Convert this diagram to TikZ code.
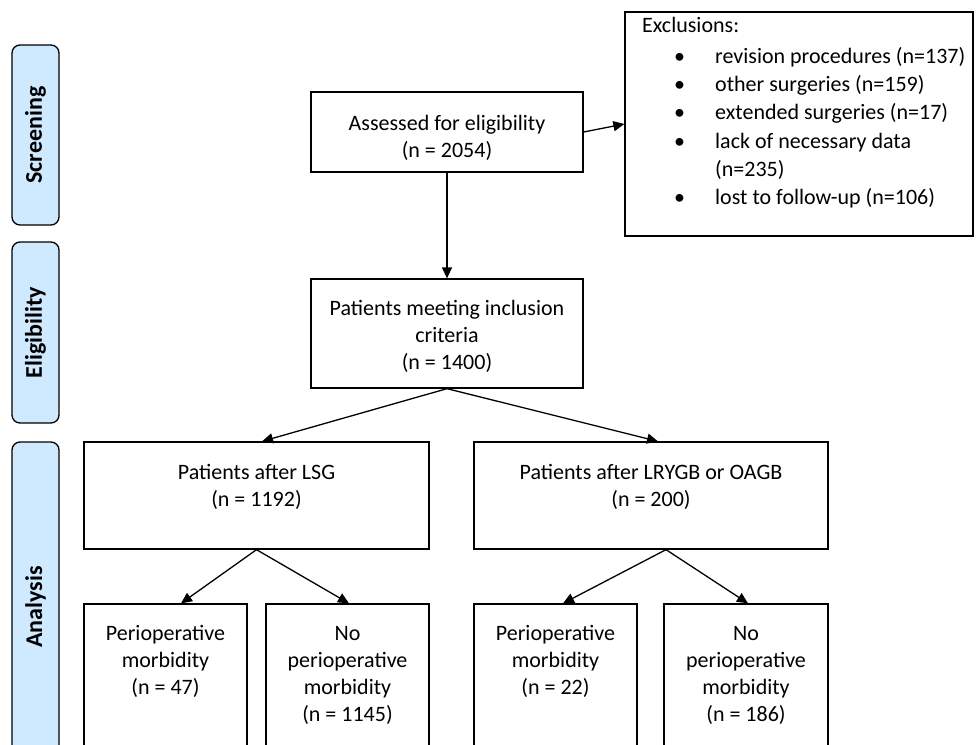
\documentclass[tikz,border=0pt]{standalone}
\usepackage{fontspec}
\setmainfont{Carlito}
\usetikzlibrary{arrows.meta,calc}
\definecolor{barblue}{RGB}{207,233,255}
\begin{document}
\begin{tikzpicture}[x=1pt,y=-1pt,
  box/.style={draw, line width=1.3pt, rectangle, inner sep=0pt},
  bar/.style={draw, line width=1.3pt, fill=barblue, rounded corners=8pt, rotate=90,
    minimum height=47pt, inner sep=0pt, font=\fontsize{24}{28}\selectfont\bfseries},
  txt/.style={inner sep=0pt, anchor=base, font=\fontsize{22}{27}\selectfont},
  arr/.style={line width=1.3pt, -{Triangle[length=11pt,width=10pt]}}
]
\useasboundingbox (0,0) rectangle (976,744);
\clip (0,0) rectangle (976,744);

% side bars
\node[bar, minimum width=180pt] (scr) at (35.5,135) {Screening};
\node[bar, minimum width=181pt] (eli) at (35.5,332.5) {Eligibility};
\node[bar, minimum width=330pt] (ana) at (35.5,607) {Analysis};

% boxes
\node[box, minimum width=272pt, minimum height=80pt] (assess) at (447,132) {};
\node[box, minimum width=272pt, minimum height=109pt] (meet) at (447,333.5) {};
\node[box, minimum width=348pt, minimum height=224pt] (excl) at (799,124) {};
\node[box, minimum width=345pt, minimum height=107pt] (lsg) at (256.5,495.5) {};
\node[box, minimum width=354pt, minimum height=107pt] (lry) at (651,495.5) {};
\node[box, minimum width=163pt, minimum height=176pt] (b1) at (165.5,692) {};
\node[box, minimum width=163pt, minimum height=176pt] (b2) at (347.5,692) {};
\node[box, minimum width=163pt, minimum height=176pt] (b3) at (555.5,692) {};
\node[box, minimum width=164pt, minimum height=176pt] (b4) at (746,692) {};

% texts
\node[txt] (assesst) at (447,130) {\begin{tabular}[t]{@{}c@{}}Assessed for eligibility\\(n = 2054)\end{tabular}};
\node[txt] (meett) at (447,315) {\begin{tabular}[t]{@{}c@{}}Patients meeting inclusion\\criteria\\(n = 1400)\end{tabular}};
\node[txt] (lsgt) at (256.5,479) {\begin{tabular}[t]{@{}c@{}}Patients after LSG\\(n = 1192)\end{tabular}};
\node[txt] (lryt) at (651,479) {\begin{tabular}[t]{@{}c@{}}Patients after LRYGB or OAGB\\(n = 200)\end{tabular}};
\node[txt] (b1t) at (165.5,640) {\begin{tabular}[t]{@{}c@{}}Perioperative\\morbidity\\(n = 47)\end{tabular}};
\node[txt] (b2t) at (347.5,640) {\begin{tabular}[t]{@{}c@{}}No\\perioperative\\morbidity\\(n = 1145)\end{tabular}};
\node[txt] (b3t) at (555.5,640) {\begin{tabular}[t]{@{}c@{}}Perioperative\\morbidity\\(n = 22)\end{tabular}};
\node[txt] (b4t) at (746,640) {\begin{tabular}[t]{@{}c@{}}No\\perioperative\\morbidity\\(n = 186)\end{tabular}};

\node[inner sep=0pt, anchor=base west, font=\fontsize{22}{28.3}\selectfont] (exclt) at (642,32)
 {\begin{tabular}[t]{@{}l@{}}Exclusions:\\[3pt]
 \hspace*{32pt}\makebox[41pt][l]{•}revision procedures (n=137)\\
 \hspace*{32pt}\makebox[41pt][l]{•}other surgeries (n=159)\\
 \hspace*{32pt}\makebox[41pt][l]{•}extended surgeries (n=17)\\
 \hspace*{32pt}\makebox[41pt][l]{•}lack of necessary data\\
 \hspace*{73pt}(n=235)\\
 \hspace*{32pt}\makebox[41pt][l]{•}lost to follow-up (n=106)\end{tabular}};

% arrows
\draw[arr] (assess.south) -- (meet.north);
\draw[arr] (assess.east) -- (excl.west);
\draw[arr] (meet.south) -- ([xshift=5.5pt]lsg.north);
\draw[arr] (meet.south) -- ([xshift=7pt]lry.north);
\draw[arr] (lsg.south) -- ([xshift=15.5pt]b1.north);
\draw[arr] (lsg.south) -- ([xshift=1.5pt]b2.north);
\draw[arr] ([xshift=15pt]lry.south) -- ([xshift=7.5pt]b3.north);
\draw[arr] ([xshift=15pt]lry.south) -- ([xshift=2pt]b4.north);
\end{tikzpicture}
\end{document}
